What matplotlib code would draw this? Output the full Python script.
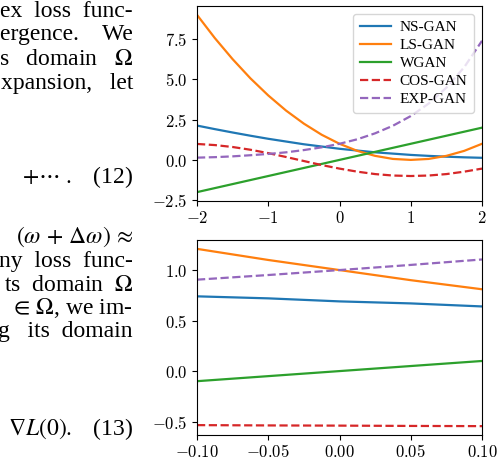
import matplotlib
matplotlib.use("Agg")
import matplotlib.pyplot as plt
from matplotlib.ticker import FuncFormatter, FixedLocator

# values (loss vs. discriminator output)
x_wide = [-2.0, -1.75, -1.5, -1.25, -1.0, -0.75, -0.5, -0.25, 0.0,
          0.25, 0.5, 0.75, 1.0, 1.25, 1.5, 1.75, 2.0]
ns_wide = [2.13, 1.91, 1.70, 1.50, 1.31, 1.14, 0.97, 0.83, 0.69,
           0.58, 0.47, 0.39, 0.31, 0.25, 0.20, 0.16, 0.13]
ls_wide = [9.0, 7.56, 6.25, 5.06, 4.0, 3.06, 2.25, 1.56, 1.0,
           0.56, 0.25, 0.06, 0.0, 0.06, 0.25, 0.56, 1.0]
w_wide = [-2.0, -1.75, -1.5, -1.25, -1.0, -0.75, -0.5, -0.25, 0.0,
          0.25, 0.5, 0.75, 1.0, 1.25, 1.5, 1.75, 2.0]
cos_wide = [0.99, 0.92, 0.80, 0.63, 0.42, 0.18, -0.07, -0.32, -0.54,
            -0.73, -0.88, -0.97, -1.0, -0.97, -0.88, -0.73, -0.54]
exp_wide = [0.14, 0.17, 0.22, 0.29, 0.37, 0.47, 0.61, 0.78, 1.0,
            1.28, 1.65, 2.12, 2.72, 3.49, 4.48, 5.75, 7.39]

x_zoom = [-0.1, -0.05, 0.0, 0.05, 0.1]
ns_zoom = [0.74, 0.72, 0.69, 0.67, 0.64]
ls_zoom = [1.21, 1.10, 1.0, 0.90, 0.81]
w_zoom = [-0.1, -0.05, 0.0, 0.05, 0.1]
cos_zoom = [-0.535, -0.538, -0.54, -0.543, -0.545]
exp_zoom = [0.905, 0.951, 1.0, 1.051, 1.105]

labels = ["NS-GAN", "LS-GAN", "WGAN", "COS-GAN", "EXP-GAN"]
colors = ["#1f77b4", "#ff7f0e", "#2ca02c", "#d62728", "#9467bd"]
styles = ["-", "-", "-", "--", "--"]

# visible part of the paper text left of the figure (cut by the crop)
para_lines = [
    ("ex  loss  func-", 17),
    ("ergence.    We", 40),
    (r"s   domain   $\Omega$", 65),
    ("xpansion,   let", 89),
    (r"$+\cdots\ .$   (12)", 183),
    (r"$(\omega\,+\,\Delta\omega)\,\approx$", 243),
    ("ny  loss  func-", 267),
    (r"ts  domain  $\Omega$", 291),
    (r"$\in\,\Omega$, we im-", 314),
    ("g   its  domain", 337),
    (r"$\nabla L(0).$   (13)", 435),
]

fig = plt.figure(figsize=(5.0, 4.61), dpi=100)
H = 461.0

for txt, base in para_lines:
    fig.text(133 / 500, 1 - base / H, txt, ha="right", va="baseline",
             fontsize=17, family="Liberation Serif", math_fontfamily="stix")

ax1 = fig.add_axes([0.394, 0.564, 0.57, 0.423])
ax2 = fig.add_axes([0.394, 0.0564, 0.57, 0.423])

wide = [ns_wide, ls_wide, w_wide, cos_wide, exp_wide]
zoom = [ns_zoom, ls_zoom, w_zoom, cos_zoom, exp_zoom]
for ys, lab, c, ls in zip(wide, labels, colors, styles):
    ax1.plot(x_wide, ys, ls, color=c, lw=1.6, label=lab)
for ys, lab, c, ls in zip(zoom, labels, colors, styles):
    ax2.plot(x_zoom, ys, ls, color=c, lw=1.6, label=lab)

ax1.margins(x=0)
ax2.margins(x=0)


def fmt(decimals):
    def f(v, pos):
        if abs(v) < 1e-9:
            v = 0.0
        return "$" + f"{v:.{decimals}f}" + "$"
    return FuncFormatter(f)


ax1.xaxis.set_major_locator(FixedLocator([-2, -1, 0, 1, 2]))
ax1.yaxis.set_major_locator(FixedLocator([-2.5, 0, 2.5, 5.0, 7.5]))
ax2.xaxis.set_major_locator(FixedLocator([-0.1, -0.05, 0, 0.05, 0.1]))
ax2.yaxis.set_major_locator(FixedLocator([-0.5, 0, 0.5, 1.0]))
ax1.xaxis.set_major_formatter(fmt(0))
ax1.yaxis.set_major_formatter(fmt(1))
ax2.xaxis.set_major_formatter(fmt(2))
ax2.yaxis.set_major_formatter(fmt(1))

for ax in (ax1, ax2):
    ax.tick_params(axis="x", pad=2.5)
    for lab in ax.get_xticklabels() + ax.get_yticklabels():
        lab.set_math_fontfamily("cm")
        lab.set_fontsize(12)

ax1.legend(loc="upper right", prop={"family": "Liberation Serif", "size": 11},
           handlelength=2.0, handletextpad=0.6, borderpad=0.45,
           labelspacing=0.28)

fig.savefig("out.png", dpi=100)
